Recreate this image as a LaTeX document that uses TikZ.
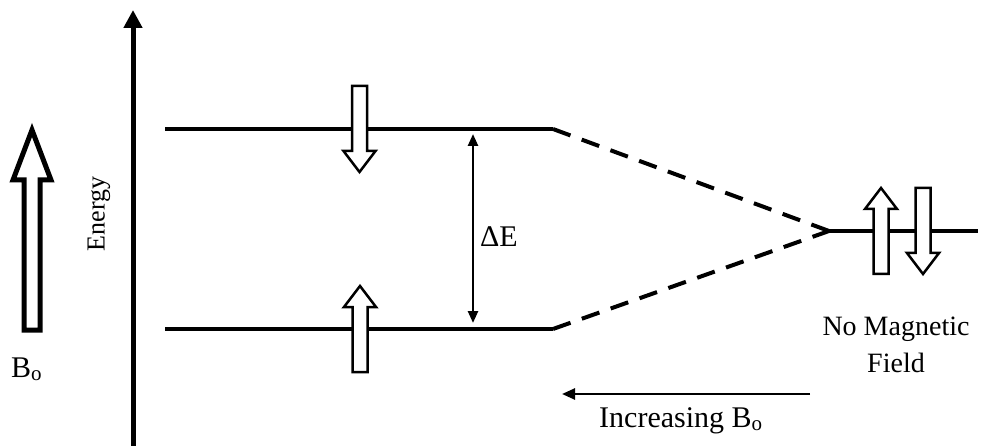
\documentclass[tikz,border=0pt]{standalone}
\usepackage{fontspec}
\setmainfont{Liberation Serif}
\usetikzlibrary{arrows.meta}
\begin{document}
\begin{tikzpicture}[x=1pt,y=-1pt,
  lvl/.style={line width=3.5pt},
  dsh/.style={line width=4pt,dash pattern=on 18.6pt off 12pt},
  hollow/.style={draw=black,fill=white,line width=2.5pt,line join=miter},
  lbl/.style={font=\fontsize{30}{33}\selectfont,inner sep=0pt},
  spinup/.pic={\draw[hollow] (0,-43) -- (16,-22) -- (7.5,-22) -- (7.5,43) -- (-7.5,43) -- (-7.5,-22) -- (-16,-22) -- cycle;},
  spindown/.pic={\draw[hollow] (0,43) -- (16,22) -- (7.5,22) -- (7.5,-43) -- (-7.5,-43) -- (-7.5,22) -- (-16,22) -- cycle;}
]
\useasboundingbox (0,0) rectangle (982,446);
% energy axis
\coordinate (ax0) at (133,446);
\coordinate (ax1) at (133,10);
\draw[line width=5pt,-{Triangle[width=18pt,length=18pt]}] (ax0) -- (ax1);
\node[lbl,rotate=90,font=\fontsize{26}{30}\selectfont] (energy) at (99,214) {Energy};
% B_o arrow
\draw[line width=5pt,line join=miter,fill=white] (32,130) -- (51,180) -- (40,180) -- (40,330) -- (24,330) -- (24,180) -- (13,180) -- cycle;
\node[lbl,anchor=base west] (bo) at (11,377) {B\textsubscript{o}};
% levels
\coordinate (t0) at (165,129); \coordinate (t1) at (553,129);
\coordinate (b0) at (165,329); \coordinate (b1) at (553,329);
\coordinate (m) at (829,231); \coordinate (r1) at (978,231);
\draw[lvl] (t0) -- (t1);
\draw[lvl] (b0) -- (b1);
\draw[lvl] (m) -- (r1);
\draw[dsh] (t1) -- (m);
\draw[dsh] (b1) -- (m);
% spins
\pic at (359.5,129) {spindown};
\pic at (360,329) {spinup};
\pic at (881,231) {spinup};
\pic at (923,231) {spindown};
% Delta E
\coordinate (d0) at (473,134); \coordinate (d1) at (473,323);
\draw[line width=2.5pt,{Triangle[width=10pt,length=12pt]}-{Triangle[width=10pt,length=12pt]}] (d0) -- (d1);
\node[lbl,anchor=base west] (de) at (480,247) {ΔE};
% labels right
\node[lbl,anchor=base,font=\fontsize{28}{30}\selectfont] (nm) at (896,335) {No Magnetic};
\node[lbl,anchor=base,font=\fontsize{28}{30}\selectfont] (fd) at (896,372) {Field};
% increasing arrow
\coordinate (i0) at (810,394); \coordinate (i1) at (562,394);
\draw[line width=2.5pt,-{Triangle[width=11pt,length=13pt]}] (i0) -- (i1);
\node[lbl,anchor=base west] (inc) at (599,427) {Increasing B\textsubscript{o}};
\end{tikzpicture}
\end{document}
